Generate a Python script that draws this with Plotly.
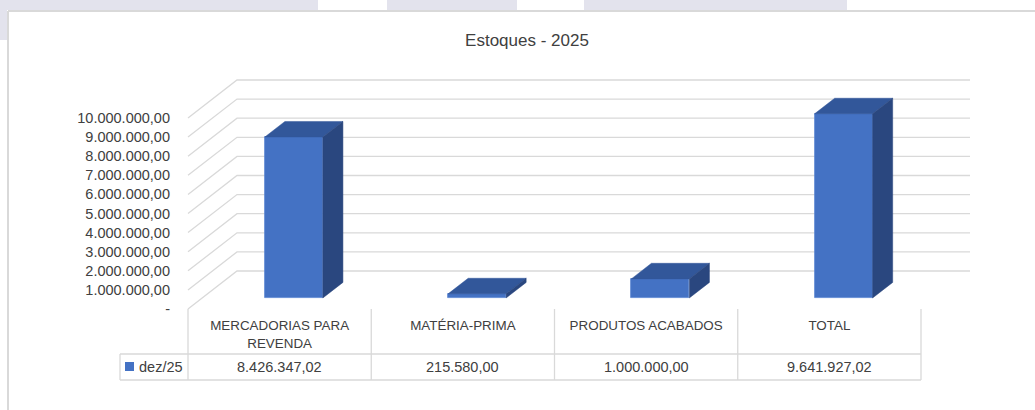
import plotly.graph_objects as go

# ---------------- data ----------------
title_text = "Estoques - 2025"
categories = ["MERCADORIAS PARA REVENDA", "MATÉRIA-PRIMA", "PRODUTOS ACABADOS", "TOTAL"]
category_labels = ["MERCADORIAS PARA<br>REVENDA", "MATÉRIA-PRIMA", "PRODUTOS ACABADOS", "TOTAL"]
series_name = "dez/25"
values = [8426347.02, 215580.00, 1000000.00, 9641927.02]
y_ticks = [0, 1e6, 2e6, 3e6, 4e6, 5e6, 6e6, 7e6, 8e6, 9e6, 1e7]


def fmt_br(v):
    s = f"{v:,.2f}"
    return s.replace(",", "X").replace(".", ",").replace("X", ".")


y_tick_text = ["-" if t == 0 else fmt_br(t) for t in y_ticks]

# ---------------- geometry / style ----------------
W, H = 1035, 410
X_LEFT_PX = 188.0      # left edge of first category (front plane)
CAT_PX = 183.25        # width of one category
Y_ZERO_PX = 309.0      # zero of front plane
PX_PER_VAL = 19.1 / 1e6

DEPTH_X = 49.0 / CAT_PX
DEPTH_Y = 38.0 / PX_PER_VAL
BAR_W = 58.0 / CAT_PX
F_FRONT, F_BACK = 0.29, 0.70

FRONT_COL = "#4472C4"
TOP_COL = "#32579A"
SIDE_COL = "#2A477F"
GRID_COL = "#D9D9D9"
TEXT_COL = "#404040"
FONT = "Liberation Sans"
NUM_SIZE = 14.5
CAT_SIZE = 13.4

xs = [i + 1 for i in range(len(categories))]
x_min = 0.5 - X_LEFT_PX / CAT_PX
x_max = 0.5 + (W - X_LEFT_PX) / CAT_PX
y_min = -(H - Y_ZERO_PX) / PX_PER_VAL
y_max = Y_ZERO_PX / PX_PER_VAL


def xcat(px):
    return 0.5 + (px - X_LEFT_PX) / CAT_PX


def yp(px):
    return 1 - px / H


fig = go.Figure()

# front faces
fig.add_trace(go.Bar(
    x=xs, y=values, base=[F_FRONT * DEPTH_Y] * len(xs),
    width=BAR_W, offset=-BAR_W / 2 + F_FRONT * DEPTH_X,
    marker=dict(color=FRONT_COL, line=dict(width=0.8, color="#5A85D2")),
    name=series_name, showlegend=False, hoverinfo="skip",
))

# top and side faces
fx, fy = F_FRONT * DEPTH_X, F_FRONT * DEPTH_Y
bx, by = F_BACK * DEPTH_X, F_BACK * DEPTH_Y
top_x, top_y, side_x, side_y = [], [], [], []
for c, v in zip(xs, values):
    xl, xr = c - BAR_W / 2, c + BAR_W / 2
    top_x += [xl + fx, xl + bx, xr + bx, xr + fx, xl + fx, None]
    top_y += [fy + v, by + v, by + v, fy + v, fy + v, None]
    side_x += [xr + fx, xr + fx, xr + bx, xr + bx, xr + fx, None]
    side_y += [fy, fy + v, by + v, by, fy, None]

fig.add_trace(go.Scatter(x=top_x, y=top_y, fill="toself", fillcolor=TOP_COL,
                         mode="lines", line=dict(width=0.5, color=TOP_COL),
                         showlegend=False, hoverinfo="skip"))
fig.add_trace(go.Scatter(x=side_x, y=side_y, fill="toself", fillcolor=SIDE_COL,
                         mode="lines", line=dict(width=0.5, color=SIDE_COL),
                         showlegend=False, hoverinfo="skip"))

shapes = []
# page background bits
for a, b in [(0, 318), (387, 517), (584, 847)]:
    shapes.append(dict(type="rect", xref="paper", yref="paper", x0=a / W, x1=b / W,
                       y0=yp(10), y1=1, fillcolor="#E3E3ED", line=dict(width=0), layer="below"))
shapes.append(dict(type="rect", xref="paper", yref="paper", x0=0, x1=7 / W,
                   y0=yp(40), y1=1, fillcolor="#E3E3ED", line=dict(width=0), layer="below"))
# chart border
shapes.append(dict(type="line", xref="paper", yref="paper", x0=8 / W, x1=1, y0=yp(11), y1=yp(11),
                   line=dict(color="#D9D9D9", width=2)))
shapes.append(dict(type="line", xref="paper", yref="paper", x0=8 / W, x1=8 / W, y0=0, y1=yp(11),
                   line=dict(color="#D9D9D9", width=2)))

# gridlines (side wall + back wall)
x_first = 0.5
x_last = len(xs) + 0.5
for t in y_ticks:
    path = (f"M {x_first},{t} L {x_first + DEPTH_X},{t + DEPTH_Y} "
            f"L {x_last + DEPTH_X},{t + DEPTH_Y}")
    shapes.append(dict(type="path", xref="x", yref="y", path=path,
                       line=dict(color=GRID_COL, width=1.3), layer="below"))

# data table lines
legend_left = xcat(120)
for k in range(len(xs) + 1):
    xe = 0.5 + k
    shapes.append(dict(type="line", xref="x", yref="paper", x0=xe, x1=xe,
                       y0=yp(309), y1=yp(380), line=dict(color=GRID_COL, width=1.3)))
for ypx in (354, 380):
    shapes.append(dict(type="line", xref="x", yref="paper", x0=legend_left, x1=x_last,
                       y0=yp(ypx), y1=yp(ypx), line=dict(color=GRID_COL, width=1.3)))
shapes.append(dict(type="line", xref="x", yref="paper", x0=legend_left, x1=legend_left,
                   y0=yp(354), y1=yp(380), line=dict(color=GRID_COL, width=1.3)))
# legend key
shapes.append(dict(type="rect", xref="x", yref="paper", x0=xcat(125), x1=xcat(134),
                   y0=yp(371), y1=yp(362), fillcolor=FRONT_COL, line=dict(width=0)))

annotations = []
for c, v in zip(xs, values):
    annotations.append(dict(x=c, y=yp(367), xref="x", yref="paper", text=fmt_br(v),
                            showarrow=False, xanchor="center", yanchor="middle",
                            font=dict(family=FONT, size=NUM_SIZE, color=TEXT_COL)))
annotations.append(dict(x=xcat(137), y=yp(367), xref="x", yref="paper", text=series_name,
                        showarrow=False, xanchor="left", yanchor="middle",
                        font=dict(family=FONT, size=NUM_SIZE, color=TEXT_COL)))

fig.update_layout(
    width=W, height=H,
    margin=dict(l=0, r=0, t=0, b=0),
    paper_bgcolor="white", plot_bgcolor="white",
    showlegend=False,
    title=dict(text=title_text, x=527 / W, y=yp(40), xanchor="center", yanchor="middle",
               font=dict(family=FONT, size=17, color=TEXT_COL)),
    xaxis=dict(range=[x_min, x_max], showgrid=False, zeroline=False, showline=False,
               tickvals=xs, ticktext=category_labels, ticks="",
               anchor="free", position=yp(Y_ZERO_PX), automargin=False,
               ticklabelstandoff=7,
               tickfont=dict(family=FONT, size=CAT_SIZE, color=TEXT_COL)),
    yaxis=dict(range=[y_min, y_max], showgrid=False, zeroline=False, showline=False,
               tickvals=y_ticks, ticktext=y_tick_text, ticks="",
               anchor="free", position=170 / W, automargin=False,
               tickfont=dict(family=FONT, size=NUM_SIZE, color=TEXT_COL)),
    shapes=shapes,
    annotations=annotations,
    bargap=0,
)

fig.write_html("out.html", config={"displayModeBar": False},
               post_script="document.body.style.margin='0';")
